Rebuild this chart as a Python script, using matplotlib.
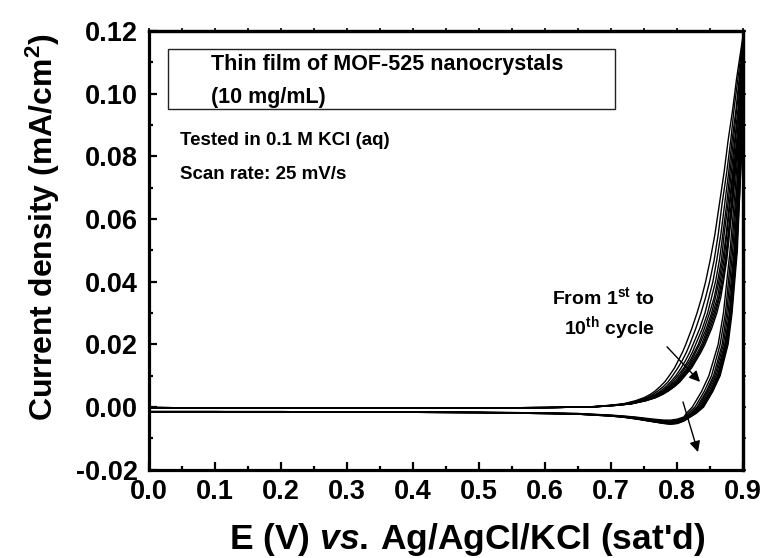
import matplotlib
matplotlib.use("Agg")
import matplotlib.pyplot as plt
from matplotlib.ticker import MultipleLocator
from matplotlib.patches import Rectangle

plt.rcParams['font.family'] = ['Liberation Sans', 'DejaVu Sans']
plt.rcParams['font.weight'] = 'bold'
plt.rcParams['mathtext.fontset'] = 'custom'
plt.rcParams['mathtext.rm'] = 'Liberation Sans:bold'
plt.rcParams['mathtext.bf'] = 'Liberation Sans:bold'
plt.rcParams['mathtext.it'] = 'Liberation Sans:italic:bold'
plt.rcParams['mathtext.default'] = 'bf'

# ---------------- data ----------------
# forward scan, flat part (common to all cycles)
E_FLAT = [0.0, 0.1, 0.2, 0.3, 0.4, 0.5, 0.6]
J_FWD_FLAT = [-0.0002, -0.0003, -0.0003, -0.0003, -0.0003, -0.0003, -0.0002]

# forward scan, rising part: potential (V) at which each cycle reaches these current densities
J_FWD_LEVELS = [0.0, 0.0005, 0.001, 0.002, 0.003, 0.004, 0.005, 0.0065, 0.008, 0.010,
                0.0125, 0.015, 0.0175, 0.020, 0.025, 0.030, 0.035, 0.040, 0.047, 0.055,
                0.065, 0.075, 0.085, 0.095, 0.105]
E_FWD = [
    [0.665, 0.696, 0.718, 0.737, 0.750, 0.759, 0.766, 0.774, 0.781, 0.788, 0.796, 0.802, 0.808, 0.813, 0.822, 0.830, 0.837, 0.843, 0.850, 0.857, 0.864, 0.871, 0.877, 0.884, 0.890],
    [0.667, 0.698, 0.721, 0.741, 0.754, 0.763, 0.770, 0.779, 0.786, 0.793, 0.801, 0.808, 0.814, 0.819, 0.828, 0.836, 0.843, 0.849, 0.856, 0.862, 0.868, 0.875, 0.881, 0.886, 0.892],
    [0.668, 0.700, 0.723, 0.743, 0.757, 0.767, 0.774, 0.783, 0.790, 0.798, 0.806, 0.813, 0.819, 0.824, 0.834, 0.842, 0.848, 0.854, 0.860, 0.866, 0.872, 0.878, 0.883, 0.889, 0.894],
    [0.669, 0.702, 0.725, 0.746, 0.760, 0.769, 0.777, 0.786, 0.793, 0.801, 0.810, 0.817, 0.823, 0.828, 0.838, 0.846, 0.852, 0.858, 0.864, 0.869, 0.875, 0.880, 0.885, 0.890, 0.895],
    [0.670, 0.703, 0.727, 0.747, 0.762, 0.771, 0.779, 0.788, 0.796, 0.804, 0.812, 0.820, 0.826, 0.832, 0.841, 0.849, 0.856, 0.861, 0.867, 0.871, 0.877, 0.882, 0.887, 0.892, 0.896],
    [0.671, 0.704, 0.728, 0.749, 0.763, 0.773, 0.781, 0.790, 0.798, 0.806, 0.815, 0.822, 0.828, 0.834, 0.844, 0.852, 0.858, 0.863, 0.869, 0.874, 0.879, 0.884, 0.888, 0.893, 0.897],
    [0.672, 0.705, 0.729, 0.750, 0.765, 0.775, 0.782, 0.792, 0.800, 0.808, 0.817, 0.824, 0.831, 0.837, 0.846, 0.854, 0.861, 0.865, 0.871, 0.875, 0.880, 0.885, 0.890, 0.894, 0.897],
    [0.672, 0.706, 0.730, 0.751, 0.766, 0.776, 0.784, 0.794, 0.802, 0.809, 0.819, 0.826, 0.833, 0.839, 0.848, 0.856, 0.863, 0.867, 0.873, 0.877, 0.882, 0.886, 0.891, 0.895, 0.898],
    [0.673, 0.707, 0.730, 0.752, 0.767, 0.777, 0.785, 0.795, 0.803, 0.811, 0.820, 0.828, 0.834, 0.840, 0.850, 0.858, 0.864, 0.869, 0.874, 0.878, 0.883, 0.887, 0.892, 0.895, 0.898],
    [0.673, 0.707, 0.731, 0.753, 0.768, 0.778, 0.786, 0.796, 0.804, 0.812, 0.822, 0.829, 0.836, 0.842, 0.852, 0.860, 0.866, 0.870, 0.875, 0.879, 0.884, 0.888, 0.892, 0.896, 0.899],
]

# switching potential and current density there, per cycle
E_VERTEX = 0.9
J_VERTEX = [0.119, 0.118, 0.117, 0.116, 0.115, 0.114, 0.113, 0.112, 0.111, 0.110]

# reverse scan, falling part: potential at which each cycle passes these current densities
J_REV_LEVELS = [0.10, 0.085, 0.07, 0.05, 0.03, 0.02, 0.01, 0.005, 0.0, -0.002]
E_REV = [
    [0.897, 0.893, 0.888, 0.880, 0.870, 0.862, 0.848, 0.837, 0.823, 0.814],
    [0.897, 0.894, 0.890, 0.882, 0.873, 0.865, 0.852, 0.841, 0.827, 0.817],
    [0.898, 0.895, 0.891, 0.884, 0.875, 0.868, 0.855, 0.844, 0.830, 0.820],
    [0.898, 0.896, 0.892, 0.886, 0.877, 0.870, 0.857, 0.846, 0.832, 0.822],
    [0.898, 0.896, 0.893, 0.887, 0.879, 0.872, 0.859, 0.848, 0.834, 0.824],
    [0.899, 0.897, 0.893, 0.888, 0.880, 0.873, 0.861, 0.850, 0.836, 0.825],
    [0.899, 0.897, 0.894, 0.889, 0.881, 0.874, 0.862, 0.851, 0.837, 0.826],
    [0.899, 0.898, 0.894, 0.890, 0.882, 0.875, 0.863, 0.852, 0.838, 0.827],
    [0.899, 0.898, 0.895, 0.890, 0.882, 0.876, 0.864, 0.853, 0.839, 0.828],
    [0.899, 0.898, 0.895, 0.891, 0.883, 0.877, 0.865, 0.854, 0.840, 0.829],
]

# reverse scan, cathodic dip and flat part: current density at these potentials
E_REV_GRID = [0.81, 0.80, 0.79, 0.78, 0.76, 0.74, 0.72, 0.70, 0.65, 0.60, 0.50, 0.40, 0.30, 0.20, 0.10, 0.0]
J_REV = [
    [-0.0032, -0.0039, -0.0042, -0.0042, -0.0038, -0.0033, -0.0029, -0.0026, -0.0021, -0.0019, -0.0017, -0.0016, -0.0016, -0.0015, -0.0015, -0.0015],
    [-0.0035, -0.0042, -0.0045, -0.0044, -0.0040, -0.0034, -0.0030, -0.0027, -0.0021, -0.0019, -0.0017, -0.0016, -0.0016, -0.0015, -0.0015, -0.0015],
    [-0.0037, -0.0045, -0.0047, -0.0046, -0.0041, -0.0035, -0.0031, -0.0027, -0.0022, -0.0020, -0.0017, -0.0016, -0.0016, -0.0015, -0.0015, -0.0015],
    [-0.0039, -0.0047, -0.0049, -0.0048, -0.0042, -0.0036, -0.0031, -0.0028, -0.0022, -0.0020, -0.0018, -0.0016, -0.0016, -0.0015, -0.0015, -0.0015],
    [-0.0040, -0.0048, -0.0050, -0.0049, -0.0043, -0.0037, -0.0032, -0.0028, -0.0022, -0.0020, -0.0018, -0.0017, -0.0016, -0.0015, -0.0015, -0.0015],
    [-0.0042, -0.0049, -0.0052, -0.0050, -0.0044, -0.0037, -0.0032, -0.0028, -0.0022, -0.0020, -0.0018, -0.0017, -0.0016, -0.0016, -0.0015, -0.0015],
    [-0.0043, -0.0050, -0.0053, -0.0051, -0.0045, -0.0038, -0.0032, -0.0028, -0.0023, -0.0021, -0.0018, -0.0017, -0.0016, -0.0016, -0.0015, -0.0015],
    [-0.0044, -0.0051, -0.0054, -0.0052, -0.0045, -0.0038, -0.0033, -0.0029, -0.0023, -0.0021, -0.0018, -0.0017, -0.0016, -0.0016, -0.0015, -0.0015],
    [-0.0044, -0.0052, -0.0054, -0.0052, -0.0046, -0.0039, -0.0033, -0.0029, -0.0023, -0.0021, -0.0018, -0.0017, -0.0016, -0.0016, -0.0015, -0.0015],
    [-0.0045, -0.0053, -0.0055, -0.0053, -0.0046, -0.0039, -0.0033, -0.0029, -0.0023, -0.0021, -0.0018, -0.0017, -0.0016, -0.0016, -0.0015, -0.0015],
]

X_TICKS = [0.0, 0.1, 0.2, 0.3, 0.4, 0.5, 0.6, 0.7, 0.8, 0.9]
X_TICK_LABELS = ['0.0', '0.1', '0.2', '0.3', '0.4', '0.5', '0.6', '0.7', '0.8', '0.9']
Y_TICKS = [-0.02, 0.0, 0.02, 0.04, 0.06, 0.08, 0.10, 0.12]
Y_TICK_LABELS = ['-0.02', '0.00', '0.02', '0.04', '0.06', '0.08', '0.10', '0.12']

TITLE_LINES = ['Thin film of MOF-525 nanocrystals', '(10 mg/mL)']
INFO_LINES = ['Tested in 0.1 M KCl (aq)', 'Scan rate: 25 mV/s']
CYCLE_LINES = ['From 1$^{st}$ to', '10$^{th}$ cycle']
X_LABEL = "E (V) $\\mathit{vs.}\\,$Ag/AgCl/KCl (sat'd)"
Y_LABEL = 'Current density (mA/cm$^{2}$)'

# annotation arrows (data coordinates: tail -> head)
ARROW_FWD = ((0.7845, 0.0192), (0.8345, 0.0080))
ARROW_REV = ((0.8087, 0.0016), (0.8314, -0.0144))

# ---------------- figure ----------------
fig = plt.figure(figsize=(7.68, 5.58), dpi=100)
ax = fig.add_axes([0.1940, 0.1584, 0.7738, 0.7860])

for k in range(len(E_FWD)):
    E = E_FLAT + E_FWD[k] + [E_VERTEX] + E_REV[k] + E_REV_GRID
    J = J_FWD_FLAT + J_FWD_LEVELS + [J_VERTEX[k]] + J_REV_LEVELS + J_REV[k]
    ax.plot(E, J, color='black', lw=1.0, solid_joinstyle='round')

ax.set_xlim(0.0, 0.9)
ax.set_ylim(-0.02, 0.12)
ax.set_xticks(X_TICKS)
ax.set_xticklabels(X_TICK_LABELS)
ax.set_yticks(Y_TICKS)
ax.set_yticklabels(Y_TICK_LABELS)
ax.xaxis.set_minor_locator(MultipleLocator(0.05))
ax.yaxis.set_minor_locator(MultipleLocator(0.01))
ax.tick_params(which='major', direction='in', length=6, width=1.6, labelsize=19.5)
ax.tick_params(axis='x', which='major', pad=7)
ax.tick_params(axis='y', which='major', pad=8)
ax.tick_params(which='minor', direction='in', length=3, width=1.6)
for lab in ax.get_xticklabels() + ax.get_yticklabels():
    lab.set_fontweight('bold')
for s in ax.spines.values():
    s.set_linewidth(2.3)

# small outward ticks on top and right
secx = ax.secondary_xaxis('top')
secx.xaxis.set_major_locator(MultipleLocator(0.05))
secx.tick_params(direction='out', length=2.5, width=1.2, labeltop=False)
secx.spines['top'].set_linewidth(2.3)
secy = ax.secondary_yaxis('right')
secy.yaxis.set_major_locator(MultipleLocator(0.01))
secy.tick_params(direction='out', length=2.5, width=1.2, labelright=False)
secy.spines['right'].set_linewidth(2.3)

# axis labels
fig.text(0.608, 0.033, X_LABEL, ha='center', va='center', fontsize=25.5, fontweight='bold')
fig.text(0.056, 0.593, Y_LABEL, ha='center', va='center', rotation=90, fontsize=23, fontweight='bold')

# boxed title and notes
ax.add_patch(Rectangle((0.032, 0.822), 0.752, 0.137, transform=ax.transAxes,
                       fill=False, edgecolor='#222222', lw=1.0))
ax.text(0.1043, 0.9248, TITLE_LINES[0], transform=ax.transAxes, ha='left', va='center',
        fontsize=15.5, fontweight='bold')
ax.text(0.1043, 0.8495, TITLE_LINES[1], transform=ax.transAxes, ha='left', va='center',
        fontsize=15.5, fontweight='bold')
ax.text(0.0522, 0.7500, INFO_LINES[0], transform=ax.transAxes, ha='left', va='center',
        fontsize=13.5, fontweight='bold')
ax.text(0.0522, 0.6720, INFO_LINES[1], transform=ax.transAxes, ha='left', va='center',
        fontsize=13.5, fontweight='bold')
ax.text(0.8514, 0.3935, CYCLE_LINES[0], transform=ax.transAxes, ha='right', va='center',
        fontsize=14, fontweight='bold')
ax.text(0.8514, 0.3228, CYCLE_LINES[1], transform=ax.transAxes, ha='right', va='center',
        fontsize=14, fontweight='bold')

for tail, head in (ARROW_FWD, ARROW_REV):
    ax.annotate('', xy=head, xytext=tail,
                arrowprops=dict(arrowstyle='-|>', color='black', lw=1.0,
                                mutation_scale=16, shrinkA=0, shrinkB=0))

fig.savefig('out.png', dpi=100)
